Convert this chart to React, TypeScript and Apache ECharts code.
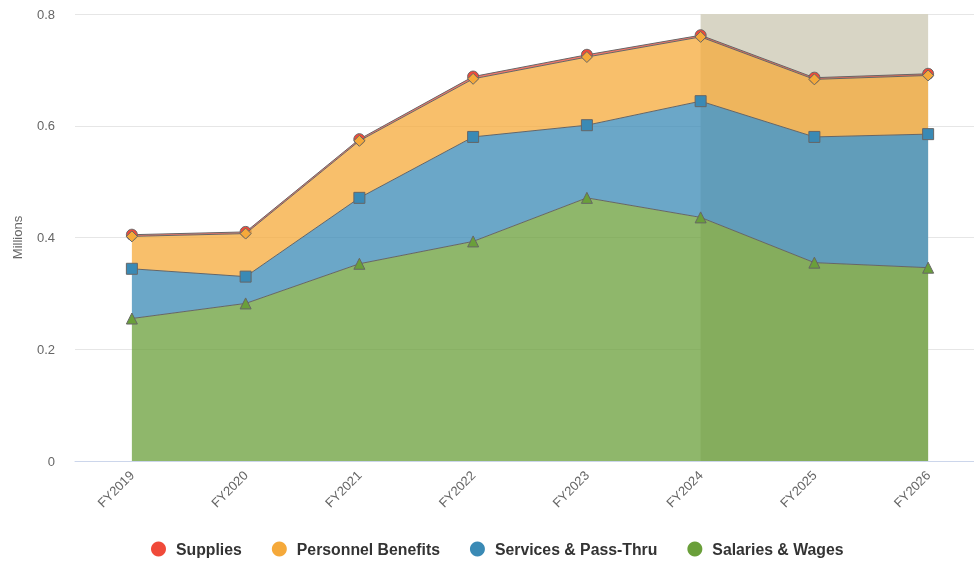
import React, { useEffect, useRef } from "react";
import * as echarts from "echarts";

const categories = ["FY2019", "FY2020", "FY2021", "FY2022", "FY2023", "FY2024", "FY2025", "FY2026"];
const salariesWages = [0.255, 0.282, 0.353, 0.393, 0.471, 0.436, 0.355, 0.346];
const servicesPassThru = [0.089, 0.048, 0.118, 0.187, 0.13, 0.208, 0.225, 0.239];
const personnelBenefits = [0.058, 0.077, 0.102, 0.104, 0.122, 0.115, 0.103, 0.105];
const supplies = [0.003, 0.003, 0.003, 0.004, 0.004, 0.003, 0.003, 0.003];
const yTicks = [0, 0.2, 0.4, 0.6, 0.8];
const projectedStart = "FY2024";
const projectedEnd = "FY2026";

const FONT = "'Liberation Sans', Arial, Helvetica, sans-serif";

function areaSeries(name: string, data: number[], color: string, symbol: string, z: number) {
  return {
    name,
    type: "line",
    stack: "total",
    data,
    z,
    symbol,
    symbolSize: 11,
    showSymbol: true,
    lineStyle: { color: "#666666", width: 1 },
    itemStyle: { color, borderColor: "#666666", borderWidth: 1 },
    areaStyle: { color, opacity: 0.75 },
    emphasis: { disabled: true },
  };
}

export default function App() {
  const ref = useRef<HTMLDivElement>(null);
  useEffect(() => {
    if (!ref.current) return;
    const chart = echarts.init(ref.current, undefined, { renderer: "svg" });
    chart.setOption({
      animation: false,
      textStyle: { fontFamily: FONT },
      grid: { left: 75, top: 14, bottom: 101, width: 910, outerBoundsMode: "none", containLabel: false },
      legend: {
        bottom: 0,
        left: 146,
        icon: "circle",
        itemWidth: 15,
        itemHeight: 15,
        itemGap: 30,
        data: ["Supplies", "Personnel Benefits", "Services & Pass-Thru", "Salaries & Wages"],
        textStyle: { fontFamily: FONT, fontSize: 15.8, fontWeight: "bold", color: "#333333", padding: [0, 0, 0, 5] },
        itemStyle: { borderWidth: 0 },
      },
      xAxis: {
        type: "category",
        data: categories,
        boundaryGap: true,
        axisLine: { lineStyle: { color: "#ccd6eb" } },
        axisTick: { show: false },
        axisLabel: { rotate: 45, color: "#666666", fontSize: 13, margin: 12, fontFamily: FONT },
        splitLine: { show: false },
      },
      yAxis: {
        type: "value",
        min: yTicks[0],
        max: yTicks[yTicks.length - 1],
        interval: 0.2,
        name: "Millions",
        nameLocation: "middle",
        nameGap: 51,
        nameTextStyle: { color: "#666666", fontSize: 13, fontFamily: FONT },
        axisLine: { show: false },
        axisTick: { show: false },
        axisLabel: { color: "#666666", fontSize: 13, margin: 20, fontFamily: FONT },
        splitLine: { lineStyle: { color: "#e6e6e6" } },
      },
      series: [
        {
          name: "projected",
          type: "line",
          data: categories.map(() => null),
          z: 1,
          showSymbol: false,
          silent: true,
          markArea: {
            silent: true,
            itemStyle: { color: "#d8d5c5" },
            data: [[{ xAxis: projectedStart }, { xAxis: projectedEnd }]],
          },
        },
        areaSeries("Salaries & Wages", salariesWages, "#6a9f3a", "triangle", 5),
        areaSeries("Services & Pass-Thru", servicesPassThru, "#3a8ab5", "rect", 4),
        areaSeries("Personnel Benefits", personnelBenefits, "#f5a93a", "diamond", 3),
        areaSeries("Supplies", supplies, "#f04a3a", "circle", 2),
      ],
    });
    return () => chart.dispose();
  }, []);
  return (
    <div
      ref={ref}
      style={{ position: "fixed", left: 0, top: 0, width: 974, height: 562, overflow: "hidden" }}
    />
  );
}
